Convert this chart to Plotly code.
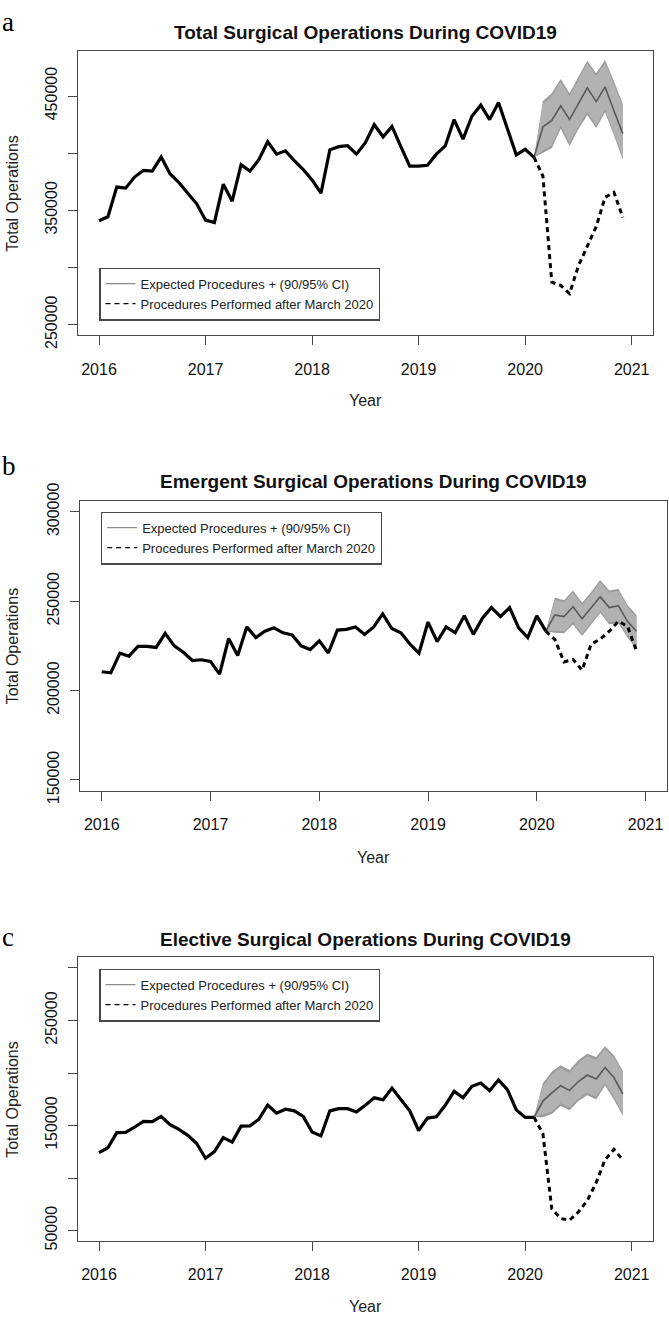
import plotly.graph_objects as go

W, H = 669, 1327

# time axis: monthly, Jan 2016 .. Dec 2020 (decimal years)
months = [2016 + i / 12 for i in range(60)]
obs_x = months[:50]          # Jan 2016 .. Feb 2020
fc_x = months[49:]           # Feb 2020 .. Dec 2020

# ---- Panel a: Total ----
total_obs = [340900, 344300, 370300, 369400, 379100, 384900, 384300, 396600, 382000, 374300, 364900, 355700,
             341400, 339400, 372900, 358000, 390000, 384300, 394300, 410000, 399100, 402000, 393400, 385700,
             376600, 365100, 402900, 405700, 406600, 399100, 409100, 424900, 414300, 423400, 405700, 388600,
             388600, 389400, 399100, 406300, 429400, 412300, 432300, 442000, 429400, 444300, 421400, 398600,
             403400, 396300]
total_fc = [396300, 422900, 428600, 441400, 429400, 443700, 457100, 445100, 458000, 437100, 417100]
total_hi95 = [396300, 445700, 452300, 464900, 452300, 467100, 480900, 470000, 481400, 462900, 442900]
total_lo95 = [396300, 400000, 404300, 421400, 406300, 420900, 433400, 422000, 435700, 415700, 394300]
total_hi90 = [396300, 443200, 449800, 462400, 449800, 464600, 478400, 467500, 478900, 460400, 440400]
total_lo90 = [396300, 402500, 406800, 423900, 408800, 423400, 435900, 424500, 438200, 418200, 396800]
total_actual = [396300, 380000, 287100, 284300, 277100, 301400, 318600, 335700, 361400, 365700, 343700]

# ---- Panel b: Emergent ----
emerg_obs = [210500, 209900, 220900, 219200, 224700, 224700, 224100, 232000, 225000, 221400, 216800, 217200,
             216300, 209200, 229100, 219600, 235600, 229600, 233200, 235100, 232300, 231100, 225000, 222900,
             227800, 221000, 233800, 234200, 235600, 231400, 235600, 242900, 234700, 232300, 226000, 220900,
             238300, 227400, 235600, 232300, 241800, 231400, 240500, 246400, 241400, 246400, 235100, 229600,
             241800, 233200]
emerg_fc = [233200, 242300, 241400, 246900, 240200, 246000, 252400, 246400, 247500, 238700, 233200]
emerg_hi95 = [233200, 252000, 250500, 256000, 249100, 255100, 261800, 256000, 256900, 247800, 242300]
emerg_lo95 = [233200, 232300, 232000, 236900, 230500, 236900, 243300, 236900, 237800, 229600, 223200]
emerg_hi90 = [233200, 250800, 249300, 254800, 247900, 253900, 260600, 254800, 255700, 246600, 241100]
emerg_lo90 = [233200, 233500, 233200, 238100, 231700, 238100, 244500, 238100, 239000, 230800, 224400]
emerg_actual = [233200, 228500, 216000, 217400, 211400, 226000, 228700, 233200, 238700, 236000, 222300]

# ---- Panel c: Elective ----
elect_obs = [124200, 128900, 143200, 143500, 148400, 154000, 153700, 158700, 150900, 146300, 140700, 132900,
             118900, 125200, 138500, 134200, 149400, 149700, 155900, 169600, 161800, 165500, 164000, 158700,
             143800, 140100, 164000, 166100, 166100, 163000, 169300, 176400, 174500, 185700, 174800, 164000,
             145300, 157100, 158400, 169300, 182600, 176400, 187300, 190400, 183200, 193500, 184200, 164900,
             157800, 157800]
elect_fc = [157800, 173300, 181100, 187900, 183500, 191900, 198100, 194400, 205300, 195700, 180100]
elect_hi95 = [157800, 190400, 201200, 207500, 202800, 212100, 218300, 215200, 225500, 216800, 201900]
elect_lo95 = [157800, 157800, 160900, 168600, 164600, 173300, 178900, 174800, 188200, 174800, 159300]
elect_hi90 = [157800, 187900, 198700, 205000, 200300, 209600, 215800, 212700, 223000, 214300, 199400]
elect_lo90 = [157800, 160300, 163400, 171100, 167100, 175800, 181400, 177300, 190700, 177300, 161800]
elect_actual = [157800, 142200, 70800, 61500, 59900, 67700, 78600, 95700, 117400, 127300, 117400]

titles = ["Total Surgical Operations During COVID19",
          "Emergent Surgical Operations During COVID19",
          "Elective Surgical Operations During COVID19"]
panel_letters = ["a", "b", "c"]
x_ticks = [2016, 2017, 2018, 2019, 2020, 2021]
y_ticks_a = [250000, 300000, 350000, 400000, 450000]
y_text_a = ["250000", "", "350000", "", "450000"]
y_ticks_b = [150000, 200000, 250000, 300000]
y_text_b = ["150000", "200000", "250000", "300000"]
y_ticks_c = [50000, 100000, 150000, 200000, 250000, 300000]
y_text_c = ["50000", "", "150000", "", "250000", ""]
legend_labels = ["Expected Procedures + (90/95% CI)", "Procedures Performed after March 2020"]

FONT = "Liberation Sans, Arial, Helvetica, sans-serif"
C95 = "#9c9c9c"
C90 = "#b2b2b2"
CMEAN = "#5a5a5a"
AX = "#474747"

# panel pixel boxes: (left, right, top, bottom)
boxes = [(77.7, 653.0, 34.0, 325.0), (80.0, 667.3, 495.0, 791.7), (77.7, 653.0, 962.7, 1253.3)]
yranges = [(240800, 489200), (144000, 306000), (40000, 310000)]
legend_pos = [(99.3, 255.7), (101.0, 505.7), (99.3, 974.0)]

panels = [
    (total_obs, total_fc, total_hi95, total_lo95, total_hi90, total_lo90, total_actual, y_ticks_a, y_text_a),
    (emerg_obs, emerg_fc, emerg_hi95, emerg_lo95, emerg_hi90, emerg_lo90, emerg_actual, y_ticks_b, y_text_b),
    (elect_obs, elect_fc, elect_hi95, elect_lo95, elect_hi90, elect_lo90, elect_actual, y_ticks_c, y_text_c),
]

fig = go.Figure()
annotations = []
layout = dict(width=W, height=H, margin=dict(l=0, r=0, t=0, b=0),
              paper_bgcolor="white", plot_bgcolor="white",
              font=dict(family=FONT, size=16, color="black"))

for i, (obs, fc, hi95, lo95, hi90, lo90, act, yt, ytt) in enumerate(panels):
    sfx = "" if i == 0 else str(i + 1)
    xa, ya = "x" + sfx, "y" + sfx
    lg = "legend" + sfx
    # 95% band
    fig.add_trace(go.Scatter(x=fc_x, y=hi95, xaxis=xa, yaxis=ya, mode="lines",
                             line=dict(width=0, color=C95), showlegend=False, hoverinfo="skip"))
    fig.add_trace(go.Scatter(x=fc_x, y=lo95, xaxis=xa, yaxis=ya, mode="lines", fill="tonexty",
                             fillcolor=C95, line=dict(width=0, color=C95), showlegend=False, hoverinfo="skip"))
    # 90% band
    fig.add_trace(go.Scatter(x=fc_x, y=hi90, xaxis=xa, yaxis=ya, mode="lines",
                             line=dict(width=0, color=C90), showlegend=False, hoverinfo="skip"))
    fig.add_trace(go.Scatter(x=fc_x, y=lo90, xaxis=xa, yaxis=ya, mode="lines", fill="tonexty",
                             fillcolor=C90, line=dict(width=0, color=C90), showlegend=False, hoverinfo="skip"))
    # expected (forecast mean)
    fig.add_trace(go.Scatter(x=fc_x, y=fc, xaxis=xa, yaxis=ya, mode="lines",
                             line=dict(width=1.6, color=CMEAN), showlegend=False))
    # actual after March 2020
    fig.add_trace(go.Scatter(x=fc_x, y=act, xaxis=xa, yaxis=ya, mode="lines",
                             line=dict(width=3, color="black", dash="5px,4px"), showlegend=False))
    # observed history
    fig.add_trace(go.Scatter(x=obs_x, y=obs, xaxis=xa, yaxis=ya, mode="lines",
                             line=dict(width=3.2, color="black"), showlegend=False))
    # legend entries
    fig.add_trace(go.Scatter(x=[None], y=[None], xaxis=xa, yaxis=ya, mode="lines", name=legend_labels[0],
                             line=dict(width=1.2, color="#8c8c8c"), legend=lg))
    fig.add_trace(go.Scatter(x=[None], y=[None], xaxis=xa, yaxis=ya, mode="lines", name=legend_labels[1],
                             line=dict(width=1.2, color="black", dash="5px,4px"), legend=lg))

    l, r, t, b = boxes[i]
    axstyle = dict(showline=True, mirror=True, linecolor=AX, linewidth=1.3,
                   ticks="outside", ticklen=9, tickwidth=1.3, tickcolor=AX,
                   showgrid=False, zeroline=False, tickfont=dict(family=FONT, size=16, color="#111"))
    layout["xaxis" + sfx] = dict(domain=[l / W, r / W], range=[2015.8, 2021.2], anchor=ya,
                                 tickvals=x_ticks, ticktext=[str(v) for v in x_ticks],
                                 ticklabelstandoff=10, **axstyle)
    layout["yaxis" + sfx] = dict(domain=[1 - b / H, 1 - t / H], range=list(yranges[i]), anchor=xa,
                                 tickvals=yt, ticktext=ytt, tickangle=-90,
                                 ticklabelstandoff=4, **axstyle)
    lx, ly = legend_pos[i]
    layout[lg] = dict(x=lx / W, y=1 - ly / H, xanchor="left", yanchor="top",
                      bordercolor=AX, borderwidth=1.2, bgcolor="white",
                      font=dict(family=FONT, size=13, color="#222"),
                      tracegroupgap=0, itemwidth=30, traceorder="normal")

    cx = (l + r) / 2
    title_y = [15, 475, 944][i]
    annotations.append(dict(text="<b>" + titles[i] + "</b>", x=cx / W, y=1 - title_y / H,
                            xref="paper", yref="paper", xanchor="center", yanchor="middle",
                            showarrow=False, font=dict(family=FONT, size=19, color="#111")))
    year_y = [391.7, 860.7, 1320.7][i]
    annotations.append(dict(text="Year", x=cx / W, y=1 - year_y / H, xref="paper", yref="paper",
                            xanchor="center", yanchor="middle", showarrow=False,
                            font=dict(family=FONT, size=16, color="#222")))
    annotations.append(dict(text="Total Operations", x=12.5 / W, y=1 - ((t + b) / 2) / H,
                            xref="paper", yref="paper", xanchor="center", yanchor="middle",
                            textangle=-90, showarrow=False,
                            font=dict(family=FONT, size=16, color="#222")))
    letter_y = [4, 459, 942][i]
    annotations.append(dict(text=panel_letters[i], x=0, y=1 - letter_y / H, xref="paper", yref="paper",
                            xanchor="left", yanchor="middle", showarrow=False,
                            font=dict(family="Liberation Serif, Times New Roman, serif", size=27, color="black")))

layout["annotations"] = annotations
fig.update_layout(**layout)
fig.write_html("out.html", config={"displayModeBar": False},
               post_script="document.body.style.margin='0';document.body.style.overflow='hidden';")
